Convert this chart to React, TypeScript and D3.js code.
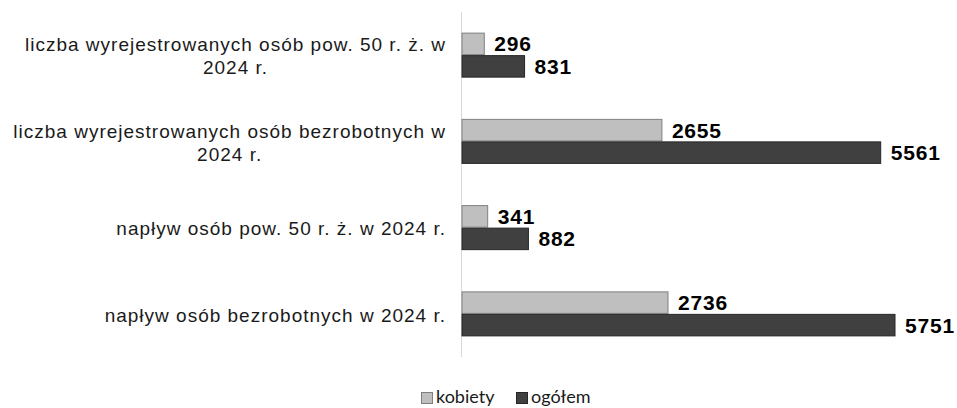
import { useEffect, useRef } from 'react'
import * as d3 from 'd3'

const categories = [
  'liczba wyrejestrowanych osób pow. 50 r. ż. w|2024 r.',
  'liczba wyrejestrowanych osób bezrobotnych w|2024 r.',
  'napływ osób pow. 50 r. ż. w 2024 r.',
  'napływ osób bezrobotnych w 2024 r.',
]
const seriesNames = ['kobiety', 'ogółem']
const kobiety = [296, 2655, 341, 2736]
const ogolem = [831, 5561, 882, 5751]

const fills = ['#bfbfbf', '#404040']
const strokes = ['#808080', '#262626']

function App() {
  const svgRef = useRef(null)
  const width = 957
  const height = 408

  useEffect(() => {
    const svg = d3.select(svgRef.current)
    svg.selectAll('*').remove()

    const x = d3.scaleLinear().domain([0, 6000]).range([462, 462 + (433 / 5751) * 6000])
    const y = d3.scaleBand().domain(categories).range([12, 357]).paddingInner(0.478).paddingOuter(0.239)
    const sub = d3.scaleBand().domain(seriesNames).range([0, y.bandwidth()])

    const rows = categories.map((c, i) => ({ cat: c, values: [kobiety[i], ogolem[i]] }))

    // axis line
    svg.append('line')
      .attr('x1', x(0) - 0.5).attr('x2', x(0) - 0.5)
      .attr('y1', 12).attr('y2', 357)
      .attr('stroke', '#d9d9d9').attr('stroke-width', 1)

    const groups = svg.selectAll('g.row')
      .data(rows)
      .join('g')
      .attr('class', 'row')
      .attr('transform', d => `translate(0,${y(d.cat)})`)

    groups.selectAll('rect')
      .data(d => d.values.map((v, k) => ({ v, k })))
      .join('rect')
      .attr('x', x(0))
      .attr('y', d => sub(seriesNames[d.k]) + 0.5)
      .attr('width', d => x(d.v) - x(0))
      .attr('height', sub.bandwidth() - 1)
      .attr('fill', d => fills[d.k])
      .attr('stroke', d => strokes[d.k])
      .attr('stroke-width', 1)

    groups.selectAll('text.val')
      .data(d => d.values.map((v, k) => ({ v, k })))
      .join('text')
      .attr('class', 'val')
      .attr('x', d => x(d.v) + 10)
      .attr('y', d => sub(seriesNames[d.k]) + sub.bandwidth() / 2)
      .attr('dy', '0.36em')
      .attr('font-family', '"Liberation Sans", Arial, sans-serif')
      .attr('font-weight', 'bold')
      .attr('font-size', 21)
      .attr('letter-spacing', 0.8)
      .attr('fill', '#000')
      .text(d => d.v)

    // category labels, centred block right-aligned to the axis
    const labelRight = 446
    const lineH = 23
    rows.forEach(r => {
      const lines = r.cat.split('|')
      const cy = y(r.cat) + y.bandwidth() / 2 + 1
      const g = svg.append('g')
      const texts = lines.map((ln, i) => g.append('text')
        .attr('y', cy + (i - (lines.length - 1) / 2) * lineH)
        .attr('dy', '0.36em')
        .attr('text-anchor', 'middle')
        .attr('font-family', '"Liberation Sans", Arial, sans-serif')
        .attr('font-size', 19)
        .attr('letter-spacing', 1)
        .attr('fill', '#1a1a1a')
        .text(ln))
      const maxW = d3.max(texts, t => (t.node() as any).getComputedTextLength())
      texts.forEach(t => t.attr('x', labelRight - maxW / 2))
    })

    // legend
    const legend = svg.append('g').attr('transform', 'translate(421,392)')
    const legendX = [0, 95]
    seriesNames.forEach((s, i) => {
      legend.append('rect')
        .attr('x', legendX[i] + 0.5).attr('y', 0.5)
        .attr('width', 11).attr('height', 11)
        .attr('fill', fills[i]).attr('stroke', strokes[i])
      legend.append('text')
        .attr('x', legendX[i] + 15).attr('y', 11)
        .attr('font-family', 'Lato, "Open Sans", sans-serif')
        .attr('font-size', 18)
        .attr('fill', '#1a1a1a')
        .text(s)
    })
  }, [])

  return (
    <div style={{ position: 'absolute', left: 0, top: 0 }}>
      <svg ref={svgRef} width={width} height={height} style={{ display: 'block', background: '#fff' }}></svg>
    </div>
  )
}

export default App
